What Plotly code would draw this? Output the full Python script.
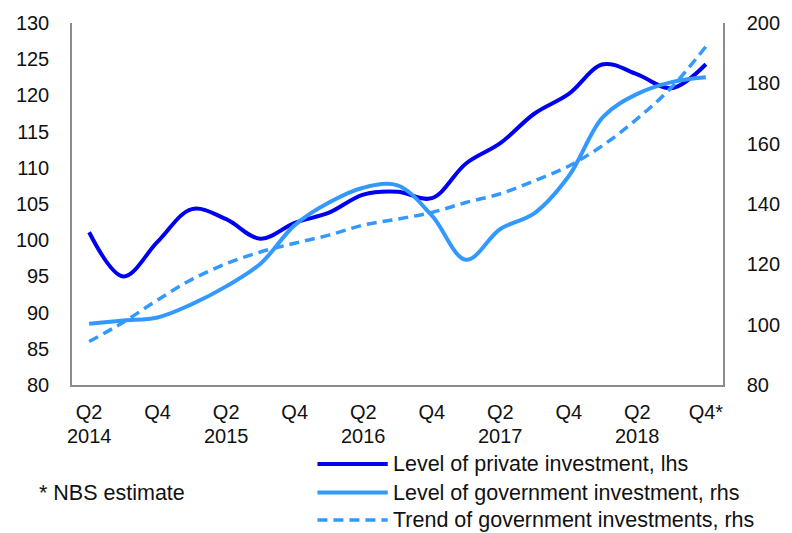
import plotly.graph_objects as go

# Quarterly series, Q2 2014 - Q4 2018
quarters = ["Q2 2014", "Q3 2014", "Q4 2014", "Q1 2015", "Q2 2015", "Q3 2015", "Q4 2015",
            "Q1 2016", "Q2 2016", "Q3 2016", "Q4 2016", "Q1 2017", "Q2 2017", "Q3 2017",
            "Q4 2017", "Q1 2018", "Q2 2018", "Q3 2018", "Q4 2018"]
private_lhs = [101.1, 95.0, 99.8, 104.3, 102.9, 100.2, 102.4, 103.8, 106.3, 106.7,
               105.8, 110.6, 113.4, 117.5, 120.2, 124.3, 122.9, 121.0, 124.3]
government_rhs = [100.3, 101.4, 102.4, 106.8, 112.7, 120.2, 133.0, 140.5, 145.4, 146.2,
                  136.2, 121.5, 131.7, 137.0, 149.3, 168.9, 176.5, 180.4, 182.0]
trend_rhs = [94.4, 100.8, 108.2, 115.0, 120.2, 124.1, 127.0, 129.7, 133.0, 135.0,
             137.2, 140.5, 143.4, 147.7, 152.6, 159.5, 168.3, 178.7, 192.2]
quarter_ticks = ["Q2", "Q4", "Q2", "Q4", "Q2", "Q4", "Q2", "Q4", "Q2", "Q4*"]
year_ticks = ["2014", "", "2015", "", "2016", "", "2017", "", "2018", ""]
series_names = ["Level of private investment, lhs",
                "Level of government investment, rhs",
                "Trend of government investments, rhs"]

DARK = "#0000F0"
LIGHT = "#3399FF"
FONT = "Liberation Sans, Arial, sans-serif"
FS = 20
FS_NOTE = 21.5

x = list(range(len(quarters)))

fig = go.Figure()
fig.add_trace(go.Scatter(x=x, y=trend_rhs, yaxis="y2", mode="lines", name=series_names[2],
                         line=dict(color=LIGHT, width=3.5, dash="10px,6px", shape="spline"),
                         customdata=quarters))
fig.add_trace(go.Scatter(x=x, y=government_rhs, yaxis="y2", mode="lines", name=series_names[1],
                         line=dict(color=LIGHT, width=4, shape="spline"), customdata=quarters))
fig.add_trace(go.Scatter(x=x, y=private_lhs, mode="lines", name=series_names[0],
                         line=dict(color=DARK, width=4, shape="spline"), customdata=quarters))

fig.update_layout(
    width=792, height=533,
    margin=dict(l=72, r=68, t=18, b=148),
    paper_bgcolor="white", plot_bgcolor="rgba(0,0,0,0)",
    showlegend=False,
    font=dict(family=FONT, size=FS, color="#111111"),
    xaxis=dict(range=[-0.5, len(quarters) - 0.5], tickmode="array",
               tickvals=x[::2], ticktext=quarter_ticks, showgrid=False, zeroline=False,
               showline=True, linecolor="#8c8c8c", linewidth=1.5, ticks="",
               ticklabelstandoff=8),
    yaxis=dict(range=[80, 130], dtick=5, showgrid=False, zeroline=False,
               showline=True, linecolor="#8c8c8c", linewidth=1.5, ticks="",
               ticklabelstandoff=17),
    yaxis2=dict(range=[80, 200], dtick=20, overlaying="y", side="right", showgrid=False,
                zeroline=False, showline=True, linecolor="#8c8c8c", linewidth=1.5,
                ticks="", ticklabelstandoff=18),
)

# Year line under each Q2 tick
for xv, yr in zip(x[::2], year_ticks):
    if yr:
        fig.add_annotation(x=xv, xref="x", yref="paper", y=-0.142, text=yr, showarrow=False,
                           xanchor="center", yanchor="middle", font=dict(size=FS, family=FONT))

# Legend drawn below the plot, samples on the left and labels to their right
legend_rows = [(-0.218, DARK, "solid"), (-0.297, LIGHT, "solid"), (-0.373, LIGHT, "dash")]
for (yp, color, dash), name in zip(legend_rows, series_names):
    fig.add_shape(type="line", xref="paper", yref="paper", x0=0.377, x1=0.485, y0=yp, y1=yp,
                  line=dict(color=color, width=4 if dash == "solid" else 3.5,
                            dash="solid" if dash == "solid" else "10px,6px"))
    fig.add_annotation(xref="paper", yref="paper", x=0.49, y=yp, text=name, showarrow=False,
                       xanchor="left", yanchor="middle", font=dict(size=FS_NOTE, family=FONT))

fig.add_annotation(xref="paper", yref="paper", x=-0.053, y=-0.297, text="* NBS estimate",
                   showarrow=False, xanchor="left", yanchor="middle",
                   font=dict(size=FS_NOTE, family=FONT))

fig.write_html("out.html")
